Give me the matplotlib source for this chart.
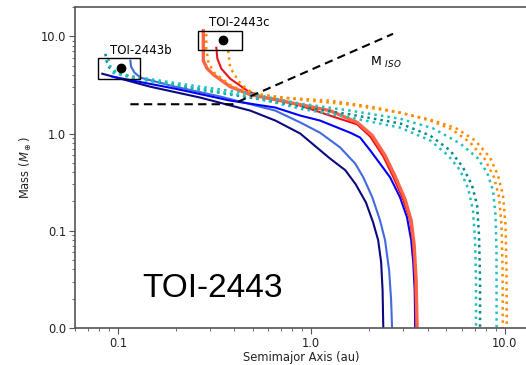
import matplotlib
matplotlib.use("Agg")
import matplotlib.pyplot as plt
from matplotlib.ticker import FixedLocator, FormatStrFormatter, LogLocator, NullFormatter
from matplotlib.patches import Rectangle

# ---- growth tracks: semimajor axis (au) and mass (M_earth) ----
navy_a = [0.083, 0.147, 0.267, 0.484, 0.652, 0.877, 1.25, 1.50, 1.70, 1.92, 2.09, 2.22, 2.30, 2.34, 2.36]
navy_m = [4.12, 3.03, 2.34, 1.72, 1.36, 1.0, 0.554, 0.42, 0.30, 0.195, 0.122, 0.080, 0.0475, 0.0245, 0.01]

royal_a = [0.116, 0.117, 0.122, 0.131, 0.198, 0.339, 0.652, 0.877, 1.11, 1.41, 1.69, 1.86, 2.07, 2.27, 2.41, 2.53, 2.59, 2.62]
royal_m = [5.61, 4.87, 4.22, 3.75, 3.03, 2.40, 1.72, 1.30, 1.02, 0.72, 0.49, 0.354, 0.221, 0.128, 0.080, 0.039, 0.0195, 0.01]

blue_a = [0.0937, 0.198, 0.381, 0.652, 0.877, 1.11, 1.59, 1.79, 2.02, 2.27, 2.56, 2.88, 3.13, 3.29, 3.37, 3.43, 3.45]
blue_m = [3.84, 2.89, 2.18, 1.85, 1.53, 1.36, 1.02, 0.91, 0.67, 0.49, 0.354, 0.221, 0.1375, 0.080, 0.0475, 0.0245, 0.01]

red_a = [0.323, 0.327, 0.343, 0.381, 0.467, 0.545, 0.691, 0.877, 1.30, 1.73, 2.02, 2.36, 2.65, 2.99, 3.25, 3.37, 3.45, 3.49]
red_m = [7.62, 5.88, 4.64, 3.66, 2.76, 2.40, 2.18, 1.94, 1.49, 1.24, 0.93, 0.58, 0.362, 0.21, 0.128, 0.071, 0.031, 0.01]

tomato_a = [0.2766, 0.2766, 0.2766, 0.290, 0.312, 0.381, 0.484, 0.691, 1.25, 1.73, 2.07, 2.41, 2.72, 3.06, 3.29, 3.41, 3.49, 3.53]
tomato_m = [11.4, 7.99, 5.61, 4.64, 4.03, 3.03, 2.51, 2.18, 1.72, 1.30, 0.954, 0.595, 0.362, 0.21, 0.128, 0.071, 0.031, 0.01]

orangeA_a = [0.2866, 0.2866, 0.294, 0.315, 0.391, 0.545, 0.877, 1.59, 2.88, 4.12, 5.35, 6.63, 7.93, 8.83, 9.37, 9.65, 9.77, 9.79]
orangeA_m = [10.6, 7.44, 5.35, 4.22, 3.03, 2.51, 2.23, 1.98, 1.64, 1.36, 1.10, 0.81, 0.541, 0.354, 0.221, 0.114, 0.0394, 0.01]

orangeB_a = [0.372, 0.381, 0.430, 0.501, 0.691, 1.25, 2.02, 2.88, 4.12, 5.55, 7.04, 8.41, 9.25, 9.82, 10.12, 10.24, 10.27]
orangeB_m = [7.10, 4.75, 3.26, 2.57, 2.34, 2.18, 1.89, 1.64, 1.39, 1.15, 0.85, 0.567, 0.371, 0.231, 0.114, 0.0394, 0.01]

teal_a = [0.0862, 0.0872, 0.0904, 0.0982, 0.116, 0.147, 0.267, 0.484, 0.877, 1.59, 2.88, 4.12, 5.23, 6.10, 6.79, 7.21, 7.38, 7.47, 7.47]
teal_m = [6.61, 5.61, 4.75, 4.22, 3.84, 3.5, 2.83, 2.34, 1.89, 1.57, 1.27, 0.954, 0.67, 0.448, 0.293, 0.183, 0.090, 0.031, 0.01]

cyan1_a = [0.0937, 0.131, 0.267, 0.484, 0.877, 1.59, 2.88, 4.12, 5.11, 5.89, 6.48, 6.87, 7.04, 7.12, 7.12]
cyan1_m = [4.22, 3.58, 2.89, 2.40, 1.80, 1.46, 1.15, 0.85, 0.595, 0.42, 0.273, 0.162, 0.080, 0.031, 0.01]

cyan2_a = [0.0893, 0.0915, 0.1, 0.131, 0.267, 0.484, 0.877, 1.59, 2.88, 4.27, 5.89, 7.21, 8.12, 8.72, 8.98, 9.09, 9.10]
cyan2_m = [5.88, 4.87, 4.12, 3.75, 3.03, 2.57, 2.03, 1.72, 1.42, 1.13, 0.79, 0.567, 0.398, 0.26, 0.144, 0.063, 0.01]

# isolation mass line
miso_a = [0.116, 0.391, 2.65]
miso_m = [2.0, 2.0, 10.6]

# planets: (a, M) and box extents
planet_names = ["TOI-2443b", "TOI-2443c"]
planet_a = [0.104, 0.348]
planet_m = [4.75, 9.2]
box_a = [(0.0793, 0.1306), (0.261, 0.44)]
box_m = [(3.67, 6.0), (7.2, 11.2)]

xticks = [0.1, 1.0, 10.0]
yticks = [0.01, 0.1, 1.0, 10.0]

fig = plt.figure(figsize=(5.26, 3.65), dpi=100)
ax = fig.add_axes([75/526, 1-328/365, 452/526, 321/365])
ax.set_xscale("log")
ax.set_yscale("log")

ax.plot(navy_a, navy_m, color="#0a0a80", lw=1.5)
ax.plot(royal_a, royal_m, color="#4169E1", lw=1.5)
ax.plot(blue_a, blue_m, color="#0000ff", lw=1.5)
ax.plot(red_a, red_m, color="#e8141c", lw=1.5)
ax.plot(tomato_a, tomato_m, color="#ff6347", lw=2.4)
ax.plot(orangeA_a, orangeA_m, color="darkorange", lw=1.8, ls=":")
ax.plot(orangeB_a, orangeB_m, color="darkorange", lw=1.8, ls=":")
ax.plot(teal_a, teal_m, color="#008b8b", lw=1.8, ls=":")
ax.plot(cyan1_a, cyan1_m, color="#20c0c0", lw=1.8, ls=":")
ax.plot(cyan2_a, cyan2_m, color="#20c0c0", lw=1.8, ls=":")

ax.plot(miso_a, miso_m, color="black", lw=1.5, ls=(0, (4, 2.5)))
ax.text(2.02, 5.0, "M $_{ISO}$", fontsize=9, color="black")

for name, pa, pm, (a0, a1), (m0, m1) in zip(planet_names, planet_a, planet_m, box_a, box_m):
    ax.add_patch(Rectangle((a0, m0), a1 - a0, m1 - m0, fill=False, ec="black", lw=1.0, zorder=5))
    ax.plot([pa], [pm], "o", color="black", ms=6, zorder=6)
ax.text(0.0905, 6.6, planet_names[0], fontsize=8.5)
ax.text(0.295, 12.8, planet_names[1], fontsize=8.5)

ax.text(0.133, 0.021, "TOI-2443", fontsize=24, family="Liberation Sans")

ax.set_xlim(0.06, 13.07)
ax.set_ylim(0.01, 20.0)
ax.xaxis.set_major_locator(FixedLocator(xticks))
ax.yaxis.set_major_locator(FixedLocator(yticks))
ax.xaxis.set_major_formatter(FormatStrFormatter("%.1f"))
ax.yaxis.set_major_formatter(FormatStrFormatter("%.1f"))
ax.xaxis.set_minor_locator(LogLocator(base=10, subs=range(2, 10)))
ax.yaxis.set_minor_locator(LogLocator(base=10, subs=range(2, 10)))
ax.xaxis.set_minor_formatter(NullFormatter())
ax.yaxis.set_minor_formatter(NullFormatter())

for s in ax.spines.values():
    s.set_color("#555555")
    s.set_linewidth(1.2)
ax.tick_params(which="both", colors="#555555", labelcolor="#222222", labelsize=8.3)
ax.tick_params(which="major", length=4, pad=2.5)
ax.tick_params(which="minor", length=2)

ax.set_xlabel("Semimajor Axis (au)", fontsize=8.3, color="#222222", labelpad=1)
ax.set_ylabel(r"Mass ($M_\oplus$)", fontsize=8.3, color="#222222", labelpad=5)

fig.savefig("out.png", dpi=100)
